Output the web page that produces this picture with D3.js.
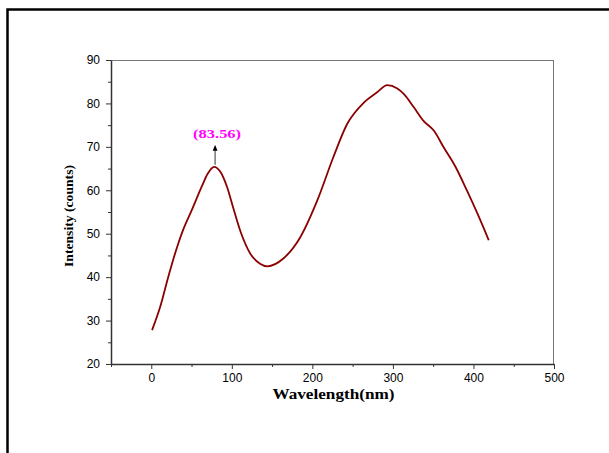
<!DOCTYPE html>
<html>
<head>
<meta charset="utf-8">
<script src="https://cdn.jsdelivr.net/npm/d3@7"></script>
<style>
  body { margin: 0; background: #fff; }
  svg { display: block; }
</style>
</head>
<body>
<div id="chart"></div>
<script>
// values
var wavelength = [1, 11, 21, 32, 40, 50, 63, 70, 78, 86, 94, 102, 111, 123, 135, 144, 164, 185, 206, 226, 243, 264, 280, 293, 305, 314, 326, 338, 351, 363, 378, 392, 405, 419];
var intensity = [27.8, 33.1, 40, 46.9, 51.1, 55.3, 61, 63.8, 65.4, 64.2, 60.8, 55.8, 50.4, 45.4, 43.1, 42.5, 44.3, 49.2, 57.6, 67.6, 75.2, 80.2, 82.5, 84.2, 83.5, 82.1, 79.1, 76, 73.7, 69.9, 65.3, 59.9, 54.6, 48.5];
var xTicks = [0, 100, 200, 300, 400, 500];
var yTicks = [20, 30, 40, 50, 60, 70, 80, 90];
var peakLabel = "(83.56)";
var peakIndex = 8;

var W = 609, H = 453;
var margin = { top: 60, right: 55, bottom: 89, left: 111 },
    width = W - margin.left - margin.right,
    height = H - margin.top - margin.bottom;

var data = wavelength.map(function(d, i) { return { x: d, y: intensity[i] }; });

var svg = d3.select("#chart")
    .append("svg")
    .attr("width", W)
    .attr("height", H);

// outer frame (only top and left visible in the picture)
svg.append("rect")
    .attr("x", 7.5).attr("y", 9.5)
    .attr("width", W + 20).attr("height", H + 20)
    .attr("fill", "none")
    .attr("stroke", "#000")
    .attr("stroke-width", 2.5);

var g = svg.append("g")
    .attr("transform", "translate(" + margin.left + "," + margin.top + ")");

var x = d3.scaleLinear().domain([-50, 500]).range([0, width]);
var y = d3.scaleLinear().domain([20, 90]).range([height, 0]);

// top and right frame lines
g.append("line").attr("x1", 0).attr("x2", width).attr("y1", 0.5).attr("y2", 0.5)
    .attr("stroke", "#777").attr("stroke-width", 1);
g.append("line").attr("x1", width - 0.5).attr("x2", width - 0.5).attr("y1", 0).attr("y2", height)
    .attr("stroke", "#777").attr("stroke-width", 1);

// minor ticks
var xMinor = d3.range(-50, 501, 50).filter(function(d) { return d % 100 !== 0; });
var yMinor = d3.range(25, 90, 10);

g.append("g")
    .attr("transform", "translate(0," + height + ")")
    .call(d3.axisBottom(x).tickValues(xTicks).tickSize(5).tickSizeOuter(0).tickPadding(4));
g.append("g")
    .attr("transform", "translate(0," + height + ")")
    .call(d3.axisBottom(x).tickValues(xMinor).tickSize(3).tickFormat("").tickSizeOuter(0))
    .select(".domain").remove();

g.append("g")
    .call(d3.axisLeft(y).tickValues(yTicks).tickSize(5).tickSizeOuter(0).tickPadding(6));
g.append("g")
    .call(d3.axisLeft(y).tickValues(yMinor).tickSize(3).tickFormat("").tickSizeOuter(0))
    .select(".domain").remove();

g.selectAll(".domain").attr("stroke", "#333").attr("stroke-width", 1.5);
g.selectAll(".tick line").attr("stroke", "#333");
g.selectAll(".tick text")
    .style("font-family", "Liberation Sans, Arial, sans-serif")
    .style("font-size", "12px")
    .attr("fill", "#000");

// spectrum line
var line = d3.line()
    .x(function(d) { return x(d.x); })
    .y(function(d) { return y(d.y); })
    .curve(d3.curveMonotoneX);

g.append("path")
    .datum(data)
    .attr("fill", "none")
    .attr("stroke", "#8b0000")
    .attr("stroke-width", 1.8)
    .attr("d", line);

// peak annotation arrow
var px = x(data[peakIndex].x) + 1, py = y(data[peakIndex].y);
svg.append("defs").append("marker")
    .attr("id", "arrow")
    .attr("viewBox", "0 0 10 10")
    .attr("refX", 5).attr("refY", 5)
    .attr("markerWidth", 5).attr("markerHeight", 7)
    .attr("orient", "auto")
    .append("path")
    .attr("d", "M0,1 L10,5 L0,9 Z")
    .attr("fill", "#000");

g.append("line")
    .attr("x1", px).attr("y1", py - 2)
    .attr("x2", px).attr("y2", py - 19)
    .attr("stroke", "#555")
    .attr("stroke-width", 1.2)
    .attr("marker-end", "url(#arrow)");

g.append("text")
    .attr("x", px + 2)
    .attr("y", py - 29)
    .attr("text-anchor", "middle")
    .attr("textLength", 48)
    .attr("lengthAdjust", "spacingAndGlyphs")
    .style("font-family", "Liberation Serif, Times New Roman, serif")
    .style("font-weight", "bold")
    .style("font-size", "13px")
    .attr("fill", "#ff00ff")
    .text(peakLabel);

// axis titles
g.append("text")
    .attr("x", width / 2 + 1)
    .attr("y", height + 35)
    .attr("text-anchor", "middle")
    .attr("textLength", 122)
    .attr("lengthAdjust", "spacingAndGlyphs")
    .style("font-family", "Liberation Serif, Times New Roman, serif")
    .style("font-weight", "bold")
    .style("font-size", "14px")
    .text("Wavelength(nm)");

g.append("text")
    .attr("transform", "translate(" + (-38) + "," + (height / 2 + 4) + ")rotate(-90)")
    .attr("text-anchor", "middle")
    .attr("textLength", 102)
    .attr("lengthAdjust", "spacingAndGlyphs")
    .style("font-family", "Liberation Serif, Times New Roman, serif")
    .style("font-weight", "bold")
    .style("font-size", "13px")
    .text("Intensity (counts)");
</script>
</body>
</html>
